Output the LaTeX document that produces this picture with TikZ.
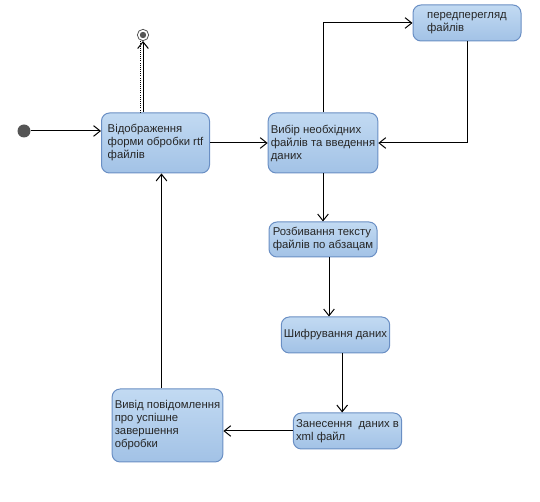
\documentclass[tikz,border=0pt]{standalone}
\usepackage{fontspec}
\setmainfont{Liberation Sans}
\usetikzlibrary{arrows.meta}
\definecolor{stateline}{HTML}{6A8FC4}
\definecolor{statetop}{HTML}{C2DAF2}
\definecolor{statebot}{HTML}{A2C2E6}
\definecolor{dotgray}{HTML}{555555}

\begin{document}
\begin{tikzpicture}[x=0.75pt,y=-0.75pt,
  state/.style={draw=stateline,line width=0.75pt,rounded corners=6pt,top color=statetop,bottom color=statebot,
    align=left,minimum width=81pt,inner sep=2pt,font=\fontsize{8.5}{9.75}\selectfont,text=black!85},
  flow/.style={-{Straight Barb[length=5pt,width=8pt]},line width=0.75pt}]
\useasboundingbox (0,0) rectangle (540,502);
% states
\node[circle,fill=dotgray,minimum size=9.75pt,inner sep=0pt](init) at (24,131){};
\node[circle,draw=dotgray,line width=0.6pt,minimum size=8.5pt,inner sep=0pt](final) at (143,35){};
\fill[dotgray](final) circle (2.4pt);
\node[state,minimum height=45pt](show) at (155.5,143){Відображення\\форми обробки rtf\\файлів};
\node[state,minimum height=45pt](choose) at (323,143){Вибір необхідних\\файлів та введення\\даних};
\node[state,minimum height=27pt](preview) at (467,23){передперегляд\\файлів};
\node[state,minimum height=26.25pt](split) at (323,239.5){Розбивання тексту\\файлів по абзацам};
\node[state,minimum height=27pt](encrypt) at (335.5,335){Шифрування даних};
\node[state,minimum height=27pt](save) at (347.5,431){Занесення \ даних в\\xml файл};
\node[state,minimum height=54.75pt](report) at (167.5,425.5){Вивід повідомлення\\про успішне\\завершення\\обробки};
% transitions
\draw[flow](init)--(init-|show.west);
\draw[flow](show)--(choose);
\draw[flow](choose)|-(preview);
\draw[flow](preview)|-(choose);
\draw[flow](choose)--(split);
\draw[flow]([xshift=4.5pt]split.south)--([xshift=4.5pt]split.south|-encrypt.north);
\draw[flow]([xshift=5pt]encrypt.south)--([xshift=5pt]encrypt.south|-save.north);
\draw[flow](save.west)--(save.west-|report.east);
\draw[flow]([xshift=-4.5pt]report.north)--([xshift=-4.5pt]report.north|-show.south);
\draw[flow](final|-show.north)--(final);
\draw[densely dotted,line width=0.6pt]([xshift=-1.6pt]final|-show.north)--([xshift=-1.6pt]final.south);
\end{tikzpicture}
\end{document}
